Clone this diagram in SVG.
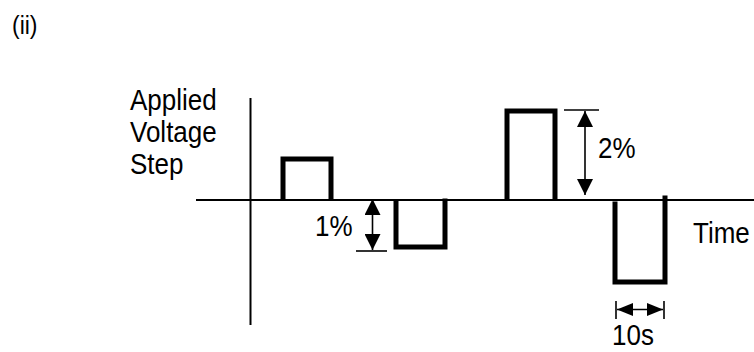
<svg xmlns="http://www.w3.org/2000/svg" width="754" height="352" viewBox="0 0 754 352">
<style>
.t{font-family:"Liberation Sans",Arial,sans-serif;font-size:26px;fill:#000}
.ax{stroke:#000;stroke-width:2;fill:none}
.p{stroke:#000;stroke-width:5;fill:none;stroke-linejoin:miter;stroke-linecap:square}
.d{stroke:#000;stroke-width:1.6;fill:none}
</style>
<defs>
<marker id="ah" viewBox="0 0 16 16" refX="16" refY="8" markerWidth="16" markerHeight="16" markerUnits="userSpaceOnUse" orient="auto-start-reverse"><path d="M0,0 L16,8 L0,16 z" fill="#000"/></marker>
<marker id="ahs" viewBox="0 0 16 13" refX="16" refY="6.5" markerWidth="16" markerHeight="13" markerUnits="userSpaceOnUse" orient="auto-start-reverse"><path d="M0,0 L16,6.5 L0,13 z" fill="#000"/></marker>
</defs>
<rect width="754" height="352" fill="#fff"/>
<text class="t" transform="translate(12,34) scale(1,1.12)" style="font-size:23px">(ii)</text>
<g id="axes">
<line class="ax" x1="250.5" y1="98" x2="250.5" y2="325"/>
<line class="ax" x1="196" y1="200" x2="754" y2="200"/>
</g>
<g id="pulses">
<polyline class="p" points="283,198 283,159 331,159 331,198"/>
<polyline class="p" points="396,203 396,247 445,247 445,201"/>
<polyline class="p" points="507,198 507,111 555,111 555,198"/>
<polyline class="p" points="615,204 615,282 665,282 665,198"/>
</g>
<g id="connectors">
<line class="d" x1="372.5" y1="199" x2="372.5" y2="250" marker-start="url(#ah)" marker-end="url(#ah)"/>
<line class="d" x1="356" y1="251" x2="387" y2="251"/>
<line class="d" x1="585" y1="111" x2="585" y2="195" marker-start="url(#ah)" marker-end="url(#ah)"/>
<line class="d" x1="564" y1="110" x2="599" y2="110"/>
<line class="d" x1="617" y1="309.5" x2="663" y2="309.5" marker-start="url(#ahs)" marker-end="url(#ahs)"/>
<line class="d" x1="616" y1="301" x2="616" y2="319"/>
<line class="d" x1="664" y1="301" x2="664" y2="319"/>
</g>
<g id="labels">
<text class="t" transform="translate(130,110) scale(1,1.12)">Applied</text>
<text class="t" transform="translate(130,142) scale(1,1.12)">Voltage</text>
<text class="t" transform="translate(130,174) scale(1,1.12)">Step</text>
<text class="t" transform="translate(315,236) scale(1,1.12)">1%</text>
<text class="t" transform="translate(598,158) scale(1,1.12)">2%</text>
<text class="t" transform="translate(693,243) scale(1,1.12)">Time</text>
<text class="t" transform="translate(612,345) scale(1,1.12)">10s</text>
</g>
</svg>
